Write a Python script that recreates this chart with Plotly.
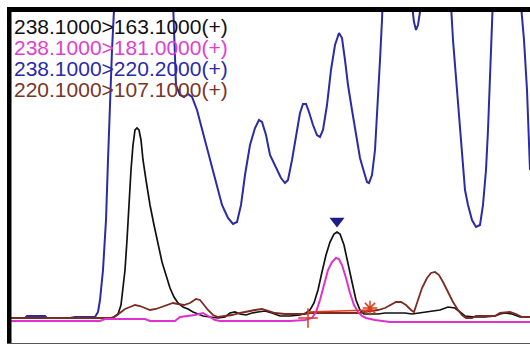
import plotly.graph_objects as go

# Scan positions and intensities (arbitrary units)
blue_x = [7, 25, 27, 45, 47, 70, 75, 95, 98, 100, 103, 106, 108, 110, 112, 114, 116, 118, 170, 174, 176, 180, 184, 188, 192, 197, 201, 207, 215, 222, 228, 233, 237, 241, 245, 250, 255, 259, 262, 266, 270, 276, 281, 285, 288, 292, 296, 300, 303, 306, 309, 313, 317, 320, 323, 327, 331, 335, 339, 342, 345, 348, 352, 356, 360, 364, 367, 369, 372, 375, 378, 380, 382, 384, 386, 410, 412, 414, 416, 418, 420, 422, 424, 448, 451, 453, 456, 459, 462, 465, 468, 472, 476, 480, 483, 486, 488, 490, 492, 494, 496, 518, 521, 524, 527, 530]
blue_y = [0, 0, 2, 2, 0, 0, 1, 1, 6, 18, 48, 98, 158, 218, 268, 308, 368, 400, 400, 300, 233, 223, 221, 224, 221, 208, 193, 168, 138, 113, 100, 94, 96, 113, 143, 173, 190, 198, 196, 183, 163, 150, 140, 135, 138, 158, 183, 205, 214, 214, 206, 193, 183, 181, 188, 213, 248, 273, 285, 280, 258, 233, 208, 183, 160, 146, 136, 135, 143, 168, 218, 258, 298, 348, 400, 400, 313, 296, 288, 293, 306, 338, 400, 400, 313, 278, 238, 198, 158, 128, 113, 98, 91, 93, 113, 148, 188, 238, 278, 318, 400, 400, 313, 278, 228, 148]

black_x = [7, 110, 114, 118, 121, 123, 125, 127, 129, 131, 133, 135, 137, 139, 141, 143, 146, 150, 154, 158, 162, 166, 170, 174, 178, 183, 188, 193, 198, 203, 210, 218, 225, 230, 235, 240, 246, 252, 258, 265, 272, 280, 290, 300, 306, 310, 314, 318, 322, 326, 330, 334, 337, 340, 344, 348, 352, 356, 360, 364, 370, 378, 385, 395, 405, 412, 420, 430, 440, 448, 455, 460, 465, 475, 485, 495, 500, 505, 512, 520, 530]
black_y = [0, 0, 1, 4, 13, 28, 48, 78, 118, 148, 173, 188, 190, 188, 178, 158, 138, 113, 93, 73, 56, 43, 30, 21, 15, 11, 9, 6, 4, 2, 1, 0, 1, 5, 6, 4, 3, 5, 6, 7, 5, 2, 2, 3, 5, 8, 15, 28, 46, 63, 76, 84, 86, 84, 73, 56, 36, 18, 8, 4, 4, 4, 5, 5, 5, 4, 5, 6, 8, 11, 10, 6, 2, 1, 1, 2, 4, 5, 4, 1, 1]

pink_x = [7, 100, 105, 145, 150, 175, 180, 195, 203, 208, 215, 220, 290, 305, 312, 316, 320, 324, 328, 332, 336, 339, 342, 346, 350, 354, 358, 362, 366, 375, 390, 530]
pink_y = [-3, -3, -1, -1, -3, -3, 1, 3, 5, 2, -2, -3, -3, -2, 0, 6, 18, 33, 48, 56, 60, 59, 53, 40, 25, 13, 6, 2, 0, -2, -4, -4]

brown_x = [7, 112, 116, 120, 125, 130, 135, 140, 145, 150, 156, 162, 168, 173, 178, 184, 190, 196, 200, 204, 208, 213, 218, 225, 232, 240, 248, 255, 262, 268, 275, 285, 295, 305, 310, 330, 360, 370, 378, 385, 390, 396, 401, 406, 411, 414, 418, 422, 427, 431, 435, 439, 443, 448, 453, 458, 462, 466, 472, 476, 485, 495, 500, 510, 516, 522, 530]
brown_y = [0, 0, 2, 5, 9, 11, 13, 12, 10, 8, 9, 11, 13, 15, 14, 13, 15, 19, 18, 13, 8, 3, 1, 2, 3, 5, 7, 8, 9, 7, 5, 4, 4, 4, 5, 5, 5, 7, 8, 10, 13, 16, 16, 13, 8, 6, 18, 30, 40, 45, 46, 43, 36, 26, 16, 8, 3, 0, 0, 2, 2, 2, 5, 6, 4, 1, 1]

# Peak annotation marks
apex_x = [337]
apex_y = [97]
start_x = [308]
start_y = [0]
end_x = [370]
end_y = [10]
base_x = [308, 370]
base_y = [6, 8]

labels = ["238.1000>163.1000(+)", "238.1000>181.0000(+)",
          "238.1000>220.2000(+)", "220.1000>107.1000(+)"]
label_colors = ["#111111", "#e040d0", "#2a2aa8", "#7a3526"]
label_y = [292, 271, 250, 229]

BLUE = "#2b2ba3"
BLACK = "#111111"
PINK = "#e030d0"
BROWN = "#7d2a20"
RED = "#e03a1a"

fig = go.Figure()
fig.add_trace(go.Scatter(x=blue_x, y=blue_y, mode="lines", line=dict(color=BLUE, width=2)))
fig.add_trace(go.Scatter(x=black_x, y=black_y, mode="lines", line=dict(color=BLACK, width=1.7)))
fig.add_trace(go.Scatter(x=brown_x, y=brown_y, mode="lines", line=dict(color=BROWN, width=1.8)))
fig.add_trace(go.Scatter(x=pink_x, y=pink_y, mode="lines", line=dict(color=PINK, width=2)))
fig.add_trace(go.Scatter(x=base_x, y=base_y, mode="lines", line=dict(color=RED, width=1.4)))
fig.add_trace(go.Scatter(x=start_x, y=start_y, mode="markers",
                         marker=dict(symbol="cross-thin", size=14, line=dict(color=RED, width=1.5))))
fig.add_trace(go.Scatter(x=end_x, y=end_y, mode="markers",
                         marker=dict(symbol="asterisk", size=12, line=dict(color=RED, width=1.5))))
fig.add_trace(go.Scatter(x=apex_x, y=apex_y, mode="markers",
                         marker=dict(symbol="triangle-down", size=13, color="#1c1c8a")))

for t, c, yy in zip(labels, label_colors, label_y):
    fig.add_annotation(x=12, y=yy, xref="x", yref="y", text=t, showarrow=False,
                       xanchor="left", yanchor="middle",
                       font=dict(family="Arial, Liberation Sans", size=21, color=c))

fig.update_layout(
    width=530, height=345,
    margin=dict(l=7, r=0, t=7, b=1),
    paper_bgcolor="white", plot_bgcolor="white",
    showlegend=False,
    hovermode=False,
    xaxis=dict(range=[7, 530], visible=False, fixedrange=True),
    yaxis=dict(range=[-26, 311], visible=False, fixedrange=True),
    shapes=[
        dict(type="rect", xref="paper", yref="y", x0=0, x1=1, y0=306, y1=311,
             fillcolor="black", line=dict(width=0), layer="above"),
        dict(type="rect", xref="x", yref="paper", x0=7, x1=11.5, y0=0, y1=1,
             fillcolor="black", line=dict(width=0), layer="above"),
        dict(type="line", xref="x", yref="y", x0=7, x1=530, y0=-25.5, y1=-25.5,
             line=dict(color="#555555", width=1.2), layer="above"),
    ],
)

fig.write_html("out.html", config={"displayModeBar": False, "staticPlot": True},
               post_script="document.body.style.margin='0';document.body.style.overflow='hidden';")
